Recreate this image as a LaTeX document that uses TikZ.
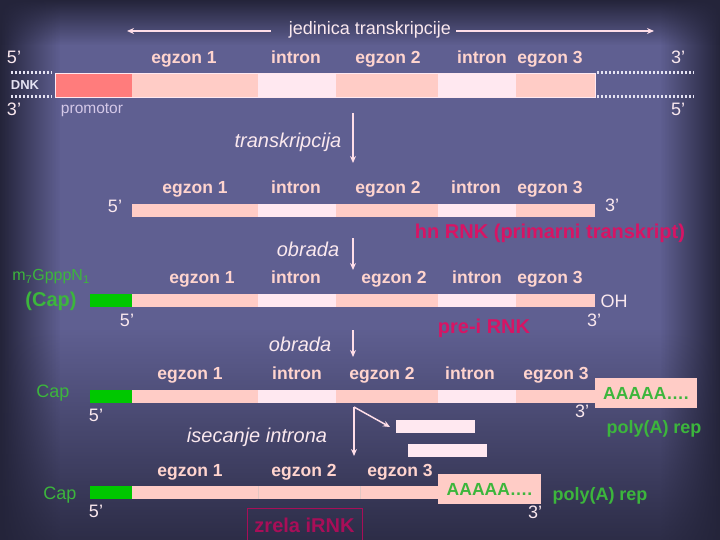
\documentclass[tikz,border=0pt]{standalone}
\usepackage{fontspec}
\setmainfont{Liberation Sans}
\usetikzlibrary{fadings,arrows.meta}
\definecolor{bgmid}{RGB}{95,95,145}
\definecolor{bgdark}{RGB}{36,36,58}
\definecolor{lab}{RGB}{255,212,206}
\definecolor{prime}{RGB}{250,232,238}
\definecolor{exc}{RGB}{255,204,198}
\definecolor{intr}{RGB}{255,232,240}
\definecolor{prom}{RGB}{255,124,124}
\definecolor{crim}{RGB}{215,20,100}
\definecolor{crimd}{RGB}{168,14,88}
\definecolor{gtxt}{RGB}{60,182,60}
\definecolor{gcap}{RGB}{0,200,0}
\definecolor{arrc}{RGB}{255,222,232}
\definecolor{dotc}{RGB}{228,226,242}
\definecolor{promt}{RGB}{212,200,232}
\tikzfading[name=fadeR, left color=transparent!0, right color=transparent!100]
\tikzfading[name=fadeL, left color=transparent!100, right color=transparent!0]
\tikzfading[name=fadeD, top color=transparent!0, bottom color=transparent!100]
\tikzfading[name=fadeU, top color=transparent!100, bottom color=transparent!0]
\newcommand{\fsz}[1]{\fontsize{#1}{#1}\selectfont}
\tikzset{
  lbl/.style={text=lab, font=\bfseries\fsz{17.5}, inner sep=0, text height=12.5pt, text depth=3.7pt},
  pr/.style={text=prime, font=\fsz{18}, inner sep=0, text height=12.9pt, text depth=3.8pt},
  crimlbl/.style={text=crim, font=\bfseries\fsz{20}, inner sep=0, text height=14.3pt, text depth=4.2pt},
  greenlbl/.style={text=gtxt, font=\bfseries\fsz{18}, inner sep=0, text height=12.9pt, text depth=3.8pt},
  greenreg/.style={text=gtxt, font=\fsz{18}, inner sep=0, text height=12.9pt, text depth=3.8pt},
  itl/.style={text=prime, font=\itshape\fsz{20}, inner sep=0, text height=14.3pt, text depth=4.2pt},
  arr/.style={draw=arrc, line width=1.5pt, -{Stealth[length=7pt,width=6pt]}},
  abox/.style={fill=exc, text=gtxt, font=\bfseries\fsz{17.5}, inner sep=0, minimum height=30pt},
  dots/.style={draw=dotc, line width=3pt, dash pattern=on 2pt off 2pt}
}
\begin{document}
\begin{tikzpicture}[x=1pt,y=-1pt]
\useasboundingbox (0,0) rectangle (720,540);
% background
\fill[bgmid] (0,0) rectangle (720,540);
\fill[bgdark, path fading=fadeR] (0,0) rectangle (60,540);
\fill[bgdark, path fading=fadeL] (660,0) rectangle (720,540);
\fill[bgdark, path fading=fadeD] (0,0) rectangle (720,45);
\fill[bgdark, path fading=fadeU, fill opacity=0.85] (0,330) rectangle (720,540);

% title
\node[pr, font=\fsz{18}] (title) at (370,30) {jedinica transkripcije};
\coordinate (tl) at (127,31);
\coordinate (tr) at (654,31);
\draw[arr] ([xshift=-18pt,yshift=-1pt]title.west) -- (tl);
\draw[arr] ([xshift=5pt,yshift=-1pt]title.east) -- (tr);

% row 1: DNK
\fill[prom] (55,73) rectangle (132,97);
\fill[exc] (132,73) rectangle (258,97);
\fill[intr] (258,73) rectangle (336,97);
\fill[exc] (336,73) rectangle (438,97);
\fill[intr] (438,73) rectangle (516,97);
\fill[exc] (516,73) rectangle (595,97);
\draw[line width=0.8pt, draw=intr] (55,73) rectangle (595,97);
\draw[dots] (11,73) -- (52,73);
\draw[dots] (11,97) -- (52,97);
\draw[dots] (597,73) -- (694,73);
\draw[dots] (597,97) -- (694,97);
\node[pr] (a5) at (14,59) {5’};
\node[pr] (a3) at (678,59) {3’};
\node[pr] (b3) at (14,111) {3’};
\node[pr] (b5) at (678,111) {5’};
\node[text=dotc, font=\bfseries\fsz{13}, inner sep=0] (dnk) at (25,85) {DNK};
\node[text=promt, font=\fsz{15.5}, inner sep=0] (prm) at (92,110) {promotor};
\node[lbl] (r1e1) at (184,59.5) {egzon 1};
\node[lbl] (r1i1) at (296,59.5) {intron};
\node[lbl] (r1e2) at (388,59.5) {egzon 2};
\node[lbl] (r1i2) at (482,59.5) {intron};
\node[lbl] (r1e3) at (550,59.5) {egzon 3};

% transkripcija
\node[itl] (trk) at (288,142) {transkripcija};
\coordinate (t1) at (353,113);
\coordinate (t2) at (353,163);
\draw[arr] (t1) -- (t2);

% row 2: hn RNK
\fill[exc] (132,204) rectangle (258,217);
\fill[intr] (258,204) rectangle (336,217);
\fill[exc] (336,204) rectangle (438,217);
\fill[intr] (438,204) rectangle (516,217);
\fill[exc] (516,204) rectangle (595,217);
\node[lbl] (r2e1) at (195,189) {egzon 1};
\node[lbl] (r2i1) at (296,189) {intron};
\node[lbl] (r2e2) at (388,189) {egzon 2};
\node[lbl] (r2i2) at (476,189) {intron};
\node[lbl] (r2e3) at (550,189) {egzon 3};
\node[pr] (c5) at (115,208) {5’};
\node[pr] (c3) at (612,207) {3’};
\node[crimlbl] (hn) at (550,233) {hn RNK (primarni transkript)};

% obrada 1
\node[itl] (ob1) at (308,251) {obrada};
\coordinate (o1a) at (353,238);
\coordinate (o1b) at (353,270);
\draw[arr] (o1a) -- (o1b);

% row 3: pre-i RNK
\fill[gcap] (90,294) rectangle (132,307);
\fill[exc] (132,294) rectangle (258,307);
\fill[intr] (258,294) rectangle (336,307);
\fill[exc] (336,294) rectangle (438,307);
\fill[intr] (438,294) rectangle (516,307);
\fill[exc] (516,294) rectangle (595,307);
\node[lbl] (r3e1) at (202,279) {egzon 1};
\node[lbl] (r3i1) at (296,279) {intron};
\node[lbl] (r3e2) at (394,279) {egzon 2};
\node[lbl] (r3i2) at (477,279) {intron};
\node[lbl] (r3e3) at (550,279) {egzon 3};
\node[text=gtxt, font=\fsz{16}, inner sep=0] (m7) at (51,277) {m\textsubscript{7}GpppN\textsubscript{1}};
\node[text=gtxt, font=\bfseries\fsz{20}, inner sep=0] (cap1) at (51,301) {(Cap)};
\node[pr] (d5) at (127,322) {5’};
\node[pr] (oh) at (614,303) {OH};
\node[pr] (d3) at (594,322) {3’};
\node[crimlbl] (pre) at (484,328) {pre-i RNK};

% obrada 2
\node[itl] (ob2) at (300,346) {obrada};
\coordinate (o2a) at (353,330);
\coordinate (o2b) at (353,357);
\draw[arr] (o2a) -- (o2b);

% row 4
\fill[gcap] (90,390) rectangle (132,403);
\fill[exc] (132,390) rectangle (258,403);
\fill[intr] (258,390) rectangle (336,403);
\fill[exc] (336,390) rectangle (438,403);
\fill[intr] (438,390) rectangle (516,403);
\fill[exc] (516,390) rectangle (595,403);
\node[abox, minimum width=102pt] (pa1) at (646,393) {AAAAA….};
\node[lbl] (r4e1) at (190,375) {egzon 1};
\node[lbl] (r4i1) at (297,375) {intron};
\node[lbl] (r4e2) at (382,375) {egzon 2};
\node[lbl] (r4i2) at (470,375) {intron};
\node[lbl] (r4e3) at (556,375) {egzon 3};
\node[greenreg] (cap2) at (53,393) {Cap};
\node[pr] (e5) at (96,417) {5’};
\node[pr] (e3) at (582,413) {3’};
\node[greenlbl] (poly1) at (654,429) {poly(A) rep};

% isecanje introna
\node[itl] (ise) at (257,437) {isecanje introna};
\coordinate (s0) at (354,407);
\coordinate (s1) at (354,456);
\coordinate (s2) at (390,427);
\draw[arr] (s0) -- (s1);
\draw[arr] (s0) -- (s2);
\fill[intr] (396,420) rectangle (475,433);
\fill[intr] (408,444) rectangle (487,457);

% row 5: zrela iRNK
\fill[gcap] (90,486) rectangle (132,499);
\fill[exc] (132,486) rectangle (438,499);
\draw[draw=exc!85!black!70!white, line width=0.6pt] (258,486) -- (258,499) (360,486) -- (360,499);
\node[abox, minimum width=103pt] (pa2) at (489.5,489) {AAAAA….};
\node[lbl] (r5e1) at (190,472) {egzon 1};
\node[lbl] (r5e2) at (304,472) {egzon 2};
\node[lbl] (r5e3) at (400,472) {egzon 3};
\node[greenreg] (cap3) at (60,495) {Cap};
\node[pr] (f5) at (96,513) {5’};
\node[pr] (f3) at (535,514) {3’};
\node[greenlbl] (poly2) at (600,496) {poly(A) rep};
\node[draw=crimd, line width=0.8pt, text=crimd, font=\bfseries\fsz{20}, minimum width=115pt, minimum height=34pt, inner sep=0] (zr) at (304.5,525) {zrela iRNK};
\end{tikzpicture}
\end{document}
